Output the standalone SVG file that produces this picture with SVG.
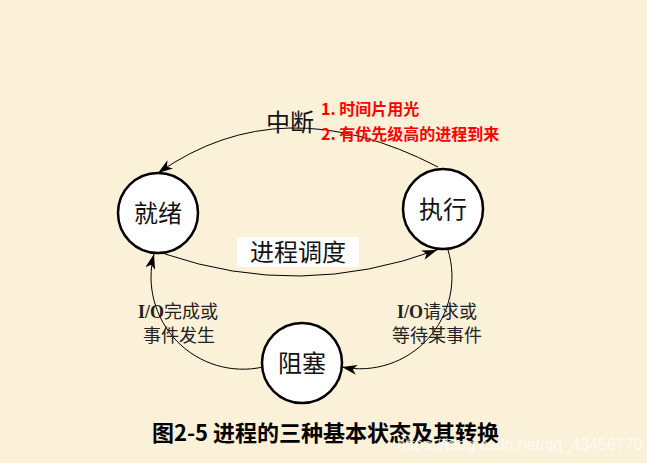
<svg xmlns="http://www.w3.org/2000/svg" width="647" height="463" viewBox="0 0 647 463">
<style>
.bg{fill:#FBF0D8}
.node circle{fill:#fff;stroke:#000;stroke-width:2.5}
.nt{font-family:"Noto Sans CJK SC",sans-serif;font-size:24px;fill:#111;text-anchor:middle}
.edge{fill:none;stroke:#000;stroke-width:1}
.lbl{font-family:"Noto Sans CJK SC",sans-serif;font-size:18px;fill:#222}
.io{font-family:"Liberation Serif",serif;font-weight:bold}
.red{font-family:"Noto Sans CJK SC",sans-serif;font-size:16px;font-weight:bold;fill:#FF0000}
</style>
<defs>
<marker id="arr" markerUnits="userSpaceOnUse" markerWidth="16" markerHeight="10" refX="15" refY="5" orient="auto">
<path d="M0,0 L15,5 L0,10 L4,5 z" fill="#000"/>
</marker>
</defs>
<rect class="bg" x="0" y="0" width="647" height="463"/>
<g id="connectors">
<path class="edge" d="M438,167 Q282,86 158,173" marker-end="url(#arr)"/>
<path class="edge" d="M165,254 Q300,300 437,250" marker-end="url(#arr)"/>
<path class="edge" d="M448,250 A92,92 0 0 1 342,367" marker-end="url(#arr)"/>
<path class="edge" d="M263,367 A92,92 0 0 1 154,254" marker-end="url(#arr)"/>
</g>
<g id="label-interrupt">
<text x="266" y="131" class="nt" style="text-anchor:start">中断</text>
<text x="321" y="115" class="red">1. 时间片用光</text>
<text x="321" y="140" class="red">2. 有优先级高的进程到来</text>
</g>
<g id="label-schedule">
<rect x="237" y="237" width="122" height="30" fill="#fff"/>
<text x="298" y="261" class="nt">进程调度</text>
</g>
<g id="label-io-done">
<text x="138" y="318" class="lbl"><tspan class="io">I/O</tspan>完成或</text>
<text x="143" y="342" class="lbl">事件发生</text>
</g>
<g id="label-io-req">
<text x="397" y="318" class="lbl"><tspan class="io">I/O</tspan>请求或</text>
<text x="392" y="342" class="lbl">等待某事件</text>
</g>
<g id="node-ready" class="node">
<circle cx="158" cy="213" r="40"/>
<text x="158" y="222" class="nt">就绪</text>
</g>
<g id="node-running" class="node">
<circle cx="443" cy="209" r="40"/>
<text x="443" y="218" class="nt">执行</text>
</g>
<g id="node-blocked" class="node">
<circle cx="302" cy="363" r="40"/>
<text x="302" y="372" class="nt">阻塞</text>
</g>
<g id="caption">
<text x="152" y="441" style="font-family:'Noto Sans CJK SC',sans-serif;font-size:22px;font-weight:bold;fill:#000">图2-5 进程的三种基本状态及其转换</text>
</g>
<text x="397" y="450" style="font-family:'Liberation Sans',sans-serif;font-size:16px;fill:#fff;fill-opacity:0.75">https://blog.csdn.net/qq_43456770</text>
</svg>
